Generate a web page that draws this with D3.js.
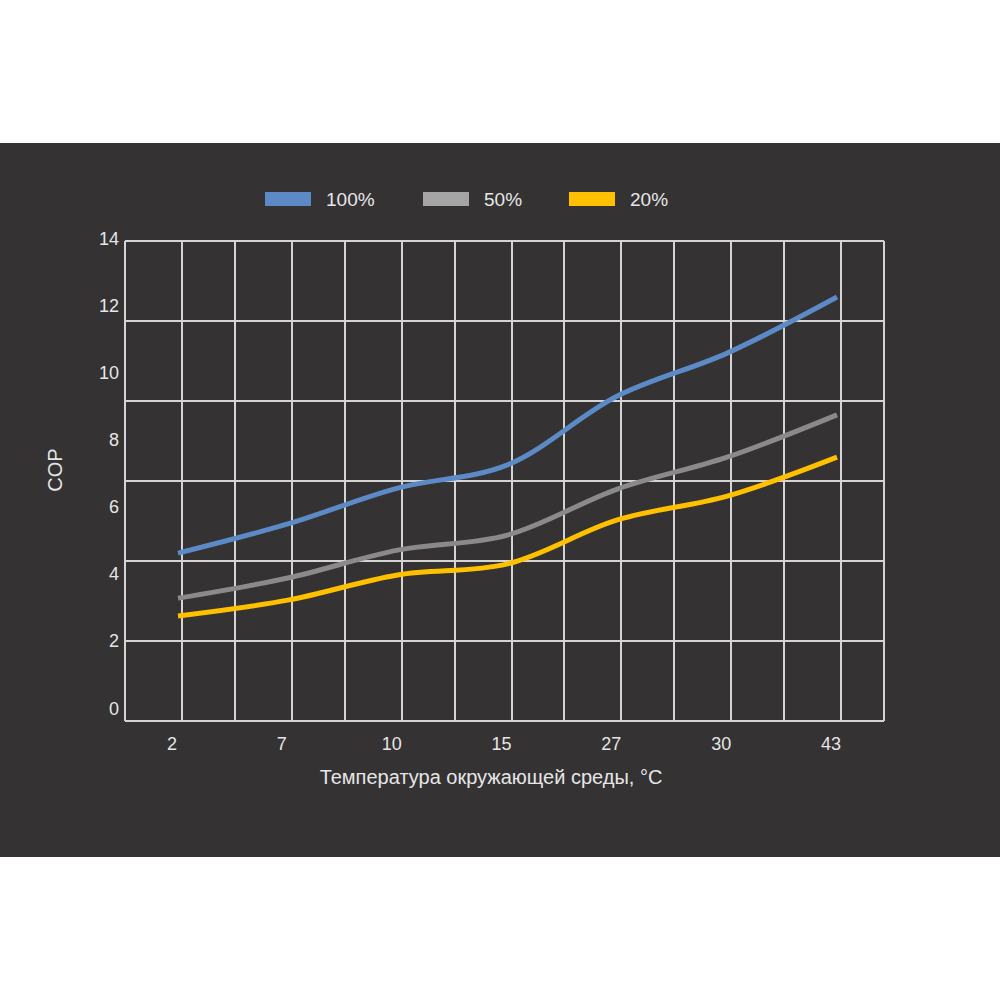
<!DOCTYPE html>
<meta charset="utf-8">
<style>
body { margin: 0; background: #fff; }
svg { display: block; }
.tick-label, .legend text, .title {
	font-family: "Liberation Sans", Arial, sans-serif;
	fill: #e6e6e6;
}
.tick-label { font-size: 18px; }
.legend text { font-size: 19px; }
.title { font-size: 20px; }
.grid line {
	stroke: #d4d4d4;
	stroke-width: 2px;
	shape-rendering: crispEdges;
}
.line {
	fill: none;
	stroke-width: 5px;
	stroke-linejoin: round;
}
</style>
<body>
<script src="https://d3js.org/d3.v7.min.js"></script>
<script>

var categories = ["2", "7", "10", "15", "27", "30", "43"];
var cop100 = [4.6, 5.47, 6.54, 7.23, 9.28, 10.56, 12.23];
var cop50 = [3.26, 3.86, 4.69, 5.14, 6.51, 7.46, 8.72];
var cop20 = [2.73, 3.2, 3.95, 4.28, 5.59, 6.3, 7.46];
var seriesNames = ["100%", "50%", "20%"];
var yTicks = [0, 2, 4, 6, 8, 10, 12, 14];

var lineColors = ["#5b8ac7", "#8a8a8a", "#ffc000"];
var legendColors = ["#5b8ac7", "#a5a5a5", "#ffc000"];

var width = 1000, height = 1000;
var frame = {left: 125, right: 884, top: 241, bottom: 721};

var svg = d3.select("body").append("svg")
	.attr("width", width)
	.attr("height", height);

// dark panel
svg.append("rect")
	.attr("x", 0).attr("y", 143)
	.attr("width", width).attr("height", 714)
	.attr("fill", "#343233");

var x = d3.scalePoint()
	.domain(categories)
	.range([178, 837]);

var y = d3.scaleLinear()
	.domain([-0.4, 13.9])
	.range([frame.bottom, frame.top]);

// grid: verticals at each category and halfway between
var step = x.step();
var vx = [frame.left, frame.right];
categories.forEach(function(c, i) {
	vx.push(x(c) + 4);
	if (i < categories.length - 1) vx.push(x(c) + step / 2 + 2);
});
var hy = d3.range(7).map(function(i) {
	return frame.top + i * (frame.bottom - frame.top) / 6;
});

var grid = svg.append("g").attr("class", "grid");
grid.selectAll(".v").data(vx).enter().append("line")
	.attr("x1", function(d) { return d; })
	.attr("x2", function(d) { return d; })
	.attr("y1", frame.top).attr("y2", frame.bottom);
grid.selectAll(".h").data(hy).enter().append("line")
	.attr("x1", frame.left).attr("x2", frame.right)
	.attr("y1", function(d) { return d; })
	.attr("y2", function(d) { return d; });

// y labels
svg.append("g").selectAll("text")
	.data(yTicks)
	.enter().append("text")
	.attr("class", "tick-label")
	.attr("text-anchor", "end")
	.attr("x", 119)
	.attr("y", function(d) { return y(d) + 7; })
	.text(function(d) { return d; });

// x labels
svg.append("g").selectAll("text")
	.data(categories)
	.enter().append("text")
	.attr("class", "tick-label")
	.attr("text-anchor", "middle")
	.attr("x", function(d) { return x(d) - 6; })
	.attr("y", 750)
	.text(function(d) { return d; });

svg.append("text")
	.attr("class", "title")
	.attr("text-anchor", "middle")
	.attr("x", 491)
	.attr("y", 784)
	.text("Температура окружающей среды, °C");

svg.append("text")
	.attr("class", "title")
	.attr("text-anchor", "middle")
	.attr("transform", "translate(62,470) rotate(-90)")
	.text("COP");

// lines
var line = d3.line()
	.x(function(d, i) { return x(categories[i]); })
	.y(function(d) { return y(d); })
	.curve(d3.curveCatmullRom.alpha(0.5));

var series = [cop100, cop50, cop20];
svg.selectAll(".line")
	.data(series)
	.enter().append("path")
	.attr("class", "line")
	.attr("stroke", function(d, i) { return lineColors[i]; })
	.attr("d", line);

// legend
var legendX = [265, 423, 569];
var legend = svg.append("g").attr("class", "legend")
	.selectAll("g")
	.data(seriesNames)
	.enter().append("g")
	.attr("transform", function(d, i) { return "translate(" + legendX[i] + ",192)"; });

legend.append("rect")
	.attr("width", 46).attr("height", 14)
	.attr("fill", function(d, i) { return legendColors[i]; });

legend.append("text")
	.attr("x", 61)
	.attr("y", 14)
	.text(function(d) { return d; });

</script>
